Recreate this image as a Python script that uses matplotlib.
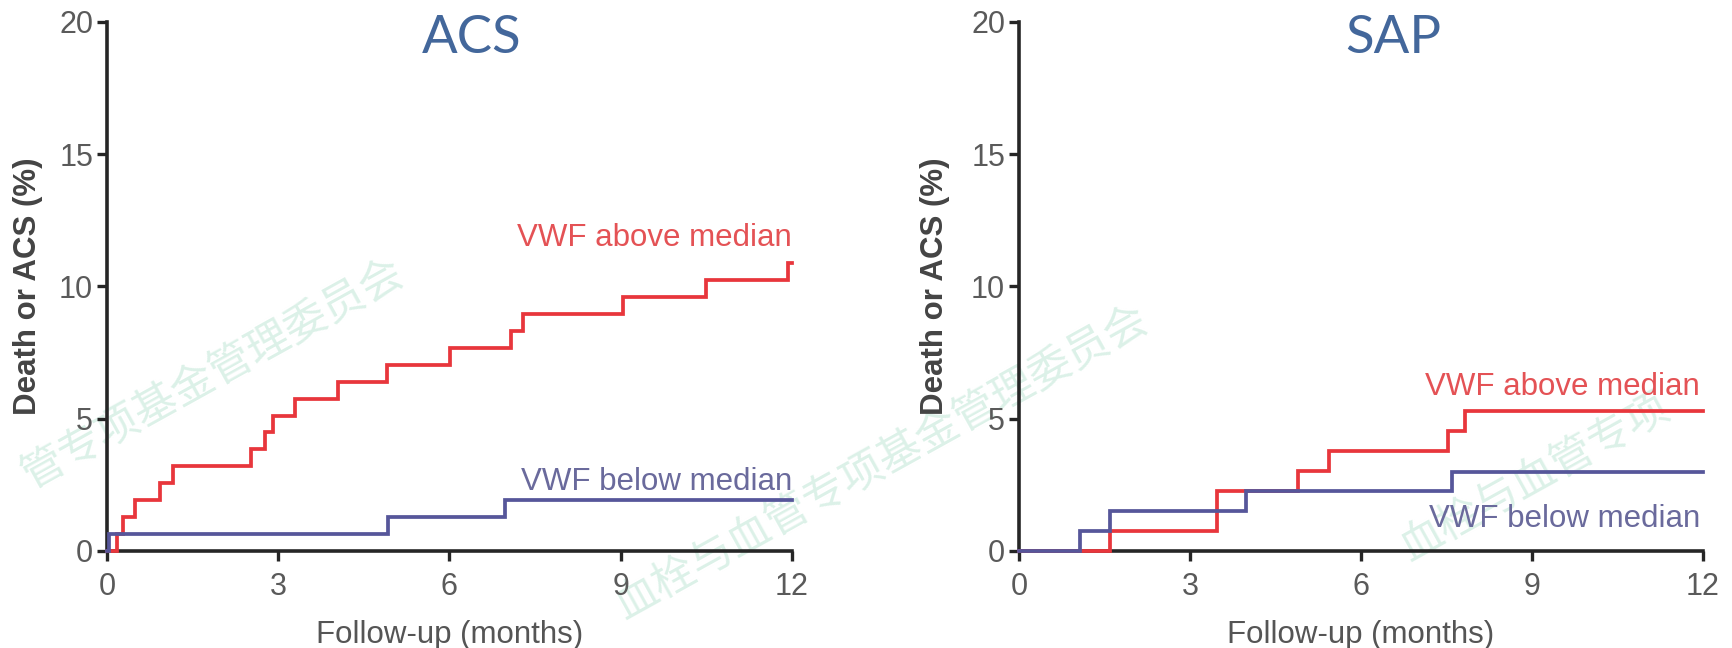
import matplotlib
matplotlib.use("Agg")
import matplotlib.pyplot as plt

# follow-up end (months)
t_end = 12

# ACS panel: event times (months) and cumulative events (%)
acs_above_t = [0, 0.17, 0.29, 0.49, 0.93, 1.16, 2.53, 2.77, 2.91, 3.29, 4.05, 4.90, 6.01, 7.08, 7.29, 9.04, 10.50, 11.93]
acs_above_y = [0, 0.64, 1.28, 1.92, 2.56, 3.20, 3.84, 4.48, 5.12, 5.76, 6.40, 7.04, 7.68, 8.32, 8.96, 9.60, 10.24, 10.88]
acs_below_t = [0, 0.03, 4.93, 6.97]
acs_below_y = [0, 0.64, 1.28, 1.92]

# SAP panel
sap_above_t = [0, 1.60, 3.47, 4.90, 5.43, 7.53, 7.82]
sap_above_y = [0, 0.76, 2.27, 3.03, 3.79, 4.55, 5.30]
sap_below_t = [0, 1.07, 1.60, 3.99, 7.59]
sap_below_y = [0, 0.75, 1.50, 2.25, 3.00]

xticks = [0, 3, 6, 9, 12]
yticks = [0, 5, 10, 15, 20]

red = '#e8363c'
blue = '#56569a'

plt.rcParams['font.family'] = ['Liberation Sans', 'DejaVu Sans']

fig = plt.figure(figsize=(17.33, 6.48), dpi=100)

# faint watermark (only the parts visible in the picture)
for x0, y0, s in [(0.014, 0.26, '管专项基金管理委员会'),
                  (0.357, 0.06, '血栓与血管专项基金管理委员会'),
                  (0.81, 0.15, '血栓与血管专项')]:
    fig.text(x0, y0, s, rotation=29, rotation_mode='anchor', ha='left', va='center',
             fontsize=31, color='#dcf1e8', family=['Noto Sans CJK SC'], zorder=-1)

ax1 = fig.add_axes([0.0617, 0.1497, 0.3953, 0.8164])
ax2 = fig.add_axes([0.588, 0.1497, 0.3947, 0.8164])


def km(ax, t, y, c):
    ax.step(t + [t_end], y + [y[-1]], where='post', color=c, lw=2.7,
            clip_on=False, zorder=3, solid_joinstyle='miter')


km(ax1, acs_above_t, acs_above_y, red)
km(ax1, acs_below_t, acs_below_y, blue)
km(ax2, sap_above_t, sap_above_y, red)
km(ax2, sap_below_t, sap_below_y, blue)

lab = dict(fontsize=22.5, ha='right', va='center')
ax1.text(12, 11.85, 'VWF above median', color='#e45255', **lab)
ax1.text(12, 2.6, 'VWF below median', color='#6a6a9c', **lab)
ax2.text(11.95, 6.2, 'VWF above median', color='#e45255', **lab)
ax2.text(11.95, 1.22, 'VWF below median', color='#6a6a9c', **lab)

ax1.text(0.533, 0.968, 'ACS', transform=ax1.transAxes, ha='center', va='center',
         fontsize=38, family='Lato', color='#43679b')
ax2.text(0.547, 0.968, 'SAP', transform=ax2.transAxes, ha='center', va='center',
         fontsize=38, family='Lato', color='#43679b')

for ax, ylx in [(ax1, -0.115), (ax2, -0.123)]:
    ax.set_xlim(0, 12)
    ax.set_ylim(0, 20)
    ax.set_xticks(xticks)
    ax.set_yticks(yticks)
    ax.patch.set_alpha(0)
    for s in ['top', 'right']:
        ax.spines[s].set_visible(False)
    for s in ['left', 'bottom']:
        ax.spines[s].set_linewidth(2.6)
        ax.spines[s].set_color('#262626')
    ax.tick_params(length=7, width=2.4, color='#262626', labelcolor='#5a5a5a', labelsize=22)
    ax.tick_params(axis='x', pad=8)
    ax.tick_params(axis='y', pad=3)
    ax.set_xlabel('Follow-up (months)', fontsize=22.5, color='#555555')
    ax.set_ylabel('Death or ACS (%)', fontsize=22.5, color='#444444', fontweight='bold')
    ax.xaxis.label.set_va('center')
    ax.yaxis.label.set_va('center')
    ax.xaxis.set_label_coords(0.5, -0.159)
    ax.yaxis.set_label_coords(ylx, 0.5)

fig.savefig('out.png', dpi=100)
